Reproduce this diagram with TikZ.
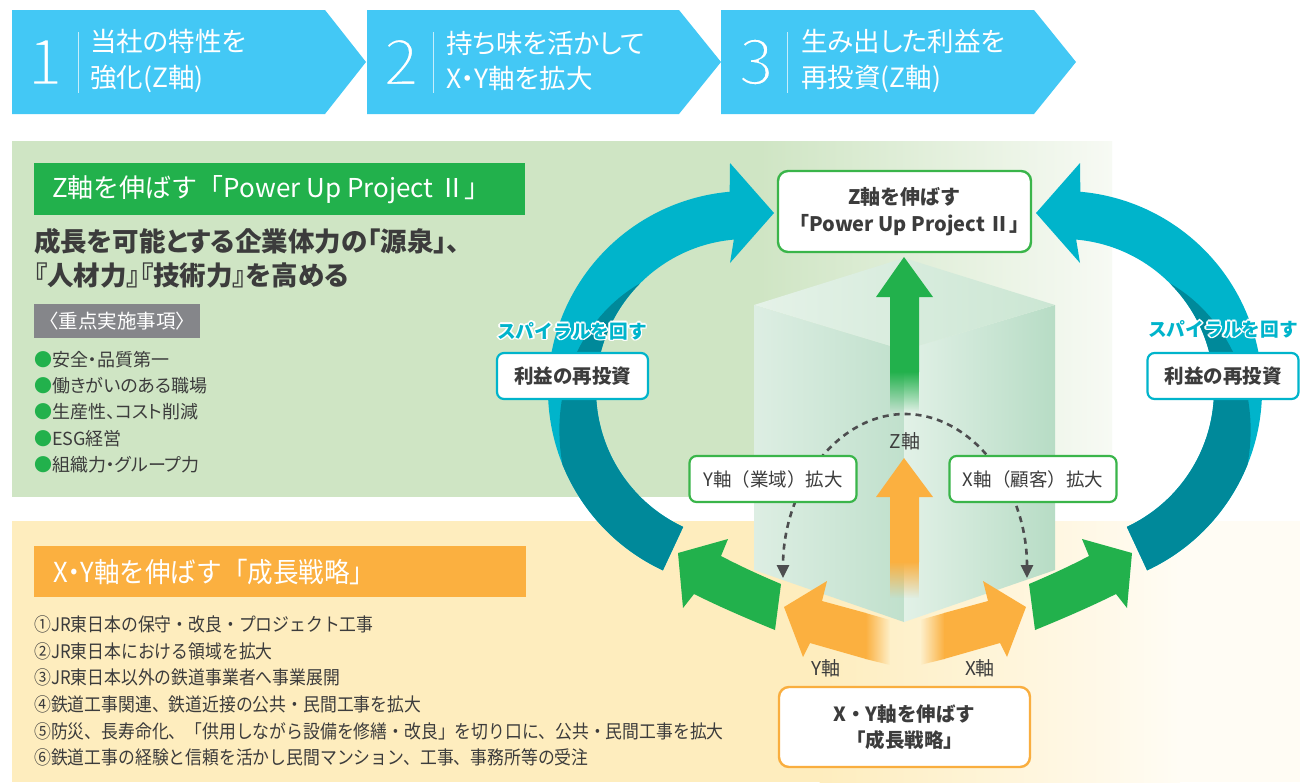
\documentclass[tikz,border=0pt]{standalone}
\usepackage{fontspec}
\setmainfont{Noto Sans CJK JP}
\newfontfamily\condfont{Noto Sans CJK JP}[FakeStretch=0.9]
\newfontfamily\widecond{Noto Sans CJK JP}[FakeStretch=0.93]
\newfontfamily\widecondp{Noto Sans CJK JP}[FakeStretch=0.93,RawFeature=+palt]
\newfontfamily\palt{Noto Sans CJK JP}[RawFeature=+palt]
\usetikzlibrary{arrows.meta,fadings,calc}

\definecolor{skyblue}{HTML}{43C8F5}
\definecolor{leafgreen}{HTML}{22B14C}
\definecolor{boxgreen}{HTML}{3AB54A}
\definecolor{amber}{HTML}{FBB040}
\definecolor{boxamber}{HTML}{F9AE3F}
\definecolor{tealA}{HTML}{00B4CB}
\definecolor{tealB}{HTML}{00899A}
\definecolor{ink}{HTML}{3C3C3C}
\definecolor{taggray}{HTML}{85868A}
\definecolor{greenpanel}{HTML}{CFE5C4}
\definecolor{greenpanelEnd}{HTML}{F7FAF4}
\definecolor{creampanel}{HTML}{FEEDBE}
\definecolor{creamEnd}{HTML}{FFFCF4}
\definecolor{dashgray}{HTML}{4D4D4F}
\definecolor{cubeLa}{HTML}{DDEEE3}
\definecolor{cubeLb}{HTML}{C0E0CC}
\definecolor{cubeRa}{HTML}{E2F1E7}
\definecolor{cubeRb}{HTML}{B7DCC5}
\definecolor{cubeTa}{HTML}{E5F2E8}
\definecolor{cubeTb}{HTML}{CBE6D3}

\tikzfading[name=fadedown, top color=transparent!0, bottom color=transparent!100]
\tikzfading[name=faderight, left color=transparent!0, right color=transparent!100]
\tikzfading[name=fadeleft, left color=transparent!100, right color=transparent!0]

\newcommand\fs[2]{\fontsize{#1}{#2}\selectfont}

% light-weight step numbers: glyph outline stroked in the banner colour
\newcommand\thinnum[1]{\special{pdf:literal 2 Tr 2.6 w 0.263 0.784 0.961 RG}#1\special{pdf:literal 0 Tr}}

% white outline around coloured text
\newcommand\halo[1]{\leavevmode
  \rlap{\kern1.5pt\textcolor{white}{#1}}%
  \rlap{\kern-1.5pt\textcolor{white}{#1}}%
  \rlap{\raisebox{1.5pt}{\textcolor{white}{#1}}}%
  \rlap{\raisebox{-1.5pt}{\textcolor{white}{#1}}}%
  \rlap{\kern1.1pt\raisebox{1.1pt}{\textcolor{white}{#1}}}%
  \rlap{\kern-1.1pt\raisebox{1.1pt}{\textcolor{white}{#1}}}%
  \rlap{\kern1.1pt\raisebox{-1.1pt}{\textcolor{white}{#1}}}%
  \rlap{\kern-1.1pt\raisebox{-1.1pt}{\textcolor{white}{#1}}}%
  #1}

% the left half of the reinvestment loop (ribbon with a twist)
\newcommand\spiralarc{%
  \fill[tealA] ([shift={(747,390)}]115:199) arc[start angle=115,end angle=265,radius=199]
    -- (730,163) -- (774,213) -- (730,263) -- ([shift={(747,390)}]265:151)
    arc[start angle=265,end angle=115,radius=151] -- cycle;
  \fill[tealB] ([shift={(747,390)}]115:199) arc[start angle=115,end angle=158,radius=199]
    -- plot[domain=158:225,samples=30] ({747+(199-48*(\x-158)/67)*cos(\x)},{390+(199-48*(\x-158)/67)*sin(\x)})
    -- ([shift={(747,390)}]225:151) arc[start angle=225,end angle=115,radius=151] -- cycle;
}

\tikzset{
  bannernum/.style={text=white, inner sep=0pt, font=\fs{64}{64}},
  bannertext/.style={anchor=west, text=white, align=left, inner sep=0pt, font=\palt\fs{26.5}{35.5}},
  bannerrule/.style={draw=white, draw opacity=0.7, line width=0.8pt},
  plain/.style={anchor=west, text=ink, inner sep=0pt},
  bullet/.style={plain, font=\palt\fs{18}{22}},
  listline/.style={plain, font=\condfont\fs{18.7}{22}},
  axisbox/.style={fill=white, draw=boxgreen, line width=2.2pt, rounded corners=7pt,
    minimum width=167pt, minimum height=46pt, inner sep=0pt, text=ink, font=\fs{18.5}{22}},
  reinvest/.style={fill=white, draw=tealA, line width=2.2pt, rounded corners=7pt,
    minimum width=151pt, minimum height=46pt, inner sep=0pt, text=ink, font=\bfseries\fs{19.5}{22}},
  spirallabel/.style={inner sep=0pt, text=tealA, font=\bfseries\fs{18.7}{22}},
  zbox/.style={fill=white, draw=boxgreen, line width=2.4pt, rounded corners=10pt,
    minimum width=253pt, minimum height=81pt, inner sep=0pt, align=center, text=ink,
    font=\bfseries\fs{20}{27}},
  xybox/.style={fill=white, draw=boxamber, line width=2.4pt, rounded corners=10pt,
    minimum width=251pt, minimum height=80pt, inner sep=0pt, align=center, text=ink,
    font=\bfseries\fs{19.5}{26}},
  axislabel/.style={inner sep=0pt, text=ink, font=\fs{19}{22}},
}

\begin{document}
\begin{tikzpicture}[x=1pt,y=-1pt]
\useasboundingbox (0,0) rectangle (1300,782);
\fill[white] (0,0) rectangle (1300,782);

% ---------- step banner ----------
\fill[skyblue] (12,10) -- (325,10) -- (366,62) -- (325,114) -- (12,114) -- cycle;
\fill[skyblue] (367,10) -- (679,10) -- (721,62) -- (679,114) -- (367,114) -- cycle;
\fill[skyblue] (721,10) -- (1034,10) -- (1076,62) -- (1034,114) -- (721,114) -- cycle;

\node[bannernum] (n1) at (45,62) {\thinnum{1}};
\draw[bannerrule] (78,32) -- (78,93);
\node[bannertext] (t1) at (90,61) {当社の特性を\\強化(Z軸)};
\node[bannernum] (n2) at (401,62) {\thinnum{2}};
\draw[bannerrule] (433,32) -- (433,93);
\node[bannertext] (t2) at (446,61) {持ち味を活かして\\X・Y軸を拡大};
\node[bannernum] (n3) at (756,62) {\thinnum{3}};
\draw[bannerrule] (787,32) -- (787,93);
\node[bannertext] (t3) at (801,61) {生み出した利益を\\再投資(Z軸)};

% ---------- panels ----------
\fill[greenpanel] (12,141) rectangle (760,497);
\shade[left color=greenpanel, right color=greenpanelEnd] (759.5,141) rectangle (1112,497);
\fill[creampanel] (12,521) rectangle (820,782);
\shade[left color=creampanel, right color=creamEnd] (819.5,521) rectangle (1180,782);
\fill[creamEnd] (1179.5,521) rectangle (1300,782);

% ---------- Z-axis panel text ----------
\node[fill=leafgreen, minimum width=491pt, minimum height=52pt, inner sep=0pt, anchor=north west] (zbar) at (34,163) {};
\node[anchor=west, text=white, inner sep=0pt, font=\fs{26}{30}] (zbartext) at (52,189.5) {Z軸を伸ばす「Power Up Project {\palt Ⅱ」}};
\node[plain, align=left, font=\palt\bfseries\fs{26.5}{34}] (lead) at (34,258) {成長を可能とする企業体力の「源泉」、\\『人材力』『技術力』を高める};
\node[fill=taggray, minimum width=166pt, minimum height=34pt, inner sep=0pt, anchor=north west] (tag) at (34,304) {};
\node[inner sep=0pt, text=white, font=\fs{19.5}{22}] (tagtext) at (tag.center) {〈重点実施事項〉};
\node[bullet] (b1) at (34,360) {\textcolor{leafgreen}{●}安全・品質第一};
\node[bullet] (b2) at (34,386) {\textcolor{leafgreen}{●}働きがいのある職場};
\node[bullet] (b3) at (34,412) {\textcolor{leafgreen}{●}生産性、コスト削減};
\node[bullet] (b4) at (34,438.5) {\textcolor{leafgreen}{●}ESG経営};
\node[bullet] (b5) at (34,465) {\textcolor{leafgreen}{●}組織力・グループ力};

% ---------- X/Y-axis panel text ----------
\node[fill=amber, minimum width=492pt, minimum height=51pt, inner sep=0pt, anchor=north west] (xybar) at (34,546) {};
\node[anchor=west, text=white, inner sep=0pt, font=\widecond\fs{27.5}{30}] (xybartext) at (53,572) {{\widecondp X・Y}軸を伸ばす「成長戦略」};
\node[listline] (l1) at (34,624) {①JR東日本の保守・改良・プロジェクト工事};
\node[listline] (l2) at (34,651) {②JR東日本における領域を拡大};
\node[listline] (l3) at (34,677.5) {③JR東日本以外の鉄道事業者へ事業展開};
\node[listline] (l4) at (34,704.5) {④鉄道工事関連、鉄道近接の公共・民間工事を拡大};
\node[listline] (l5) at (34,731) {⑤防災、長寿命化、「供用しながら設備を修繕・改良」を切り口に、公共・民間工事を拡大};
\node[listline] (l6) at (34,757.5) {⑥鉄道工事の経験と信頼を活かし民間マンション、工事、事務所等の受注};

% ---------- translucent block ----------
\shade[left color=cubeLa, right color=cubeLb] (754,305) -- (904,350) -- (904,622) -- (754,570) -- cycle;
\shade[left color=cubeRa, right color=cubeRb] (904,350) -- (1055,305) -- (1055,570) -- (904,622) -- cycle;
\shade[left color=cubeTa, right color=cubeTb] (754,305) -- (904,258) -- (1055,305) -- (904,350) -- cycle;

% ---------- reinvestment loop ----------
\spiralarc
\begin{scope}[shift={(1810,0)}, xscale=-1]
  \spiralarc
\end{scope}

% ---------- Z-axis arrows ----------
\fill[leafgreen] (876,297) -- (904,257) -- (933,297) -- (919,297) -- (919,372) -- (890,372) -- (890,297) -- cycle;
\fill[leafgreen, path fading=fadedown] (890,371.5) rectangle (919,412);
\fill[amber] (876,497) -- (904,458) -- (933,497) -- (919,497) -- (919,562) -- (890,562) -- (890,497) -- cycle;
\fill[amber, path fading=fadedown] (890,561.5) rectangle (919,598);

% ---------- dashed sweep between the axes ----------
\coordinate (yend) at (783,578);
\coordinate (xend) at (1027,578);
\draw[dashgray, line width=2.6pt, dash pattern=on 6pt off 5pt,
  {Triangle[width=12pt,length=13pt]}-{Triangle[width=12pt,length=13pt]}]
  (xend) arc[start angle=0, end angle=-180, x radius=122, y radius=164];

\node[axisbox] (ybox) at (773,479) {Y軸（業域）拡大};
\node[axisbox] (xbox) at (1033,479) {X軸（顧客）拡大};
\node[axislabel] (zlabel) at (905,441) {Z軸};

% ---------- X/Y-axis arrows ----------
\fill[amber] (784,607) -- (827,581) -- (822,601) -- (866,613) -- (866,659) -- (810,643) -- (803,657) -- cycle;
\fill[amber, path fading=faderight] (865.5,613) -- (890,620) -- (890,665) -- (865.5,659) -- cycle;
\fill[amber] (1026,607) -- (983,581) -- (988,601) -- (944,613) -- (944,659) -- (1000,643) -- (1007,657) -- cycle;
\fill[amber, path fading=fadeleft] (944.5,613) -- (920,620) -- (920,665) -- (944.5,659) -- cycle;

\fill[leafgreen] (678,553) -- (728,539) -- (721,556) .. controls (742,567) and (762,576) .. (781,584)
  -- (775,630) .. controls (748,619) and (720,607) .. (694,594) -- (683,608) -- cycle;
\fill[leafgreen] (1132,553) -- (1082,539) -- (1089,556) .. controls (1068,567) and (1048,576) .. (1029,584)
  -- (1035,630) .. controls (1062,619) and (1090,607) .. (1116,594) -- (1127,608) -- cycle;

\node[axislabel] (ylabel) at (826,668.5) {Y軸};
\node[axislabel] (xlabel) at (980,668.5) {X軸};

% ---------- boxes ----------
\node[spirallabel] (spl) at (572,331) {\halo{スパイラルを回す}};
\node[spirallabel] (spr) at (1223,329) {\halo{スパイラルを回す}};
\node[reinvest] (rl) at (572.5,376) {利益の再投資};
\node[reinvest] (rr) at (1223,376) {利益の再投資};
\node[zbox] (zbox) at (904.5,211.5) {Z軸を伸ばす\\「Power Up Project {\palt Ⅱ」}};
\node[xybox] (xybox) at (904.5,727) {X・Y軸を伸ばす\\「成長戦略」};
\end{tikzpicture}
\end{document}
